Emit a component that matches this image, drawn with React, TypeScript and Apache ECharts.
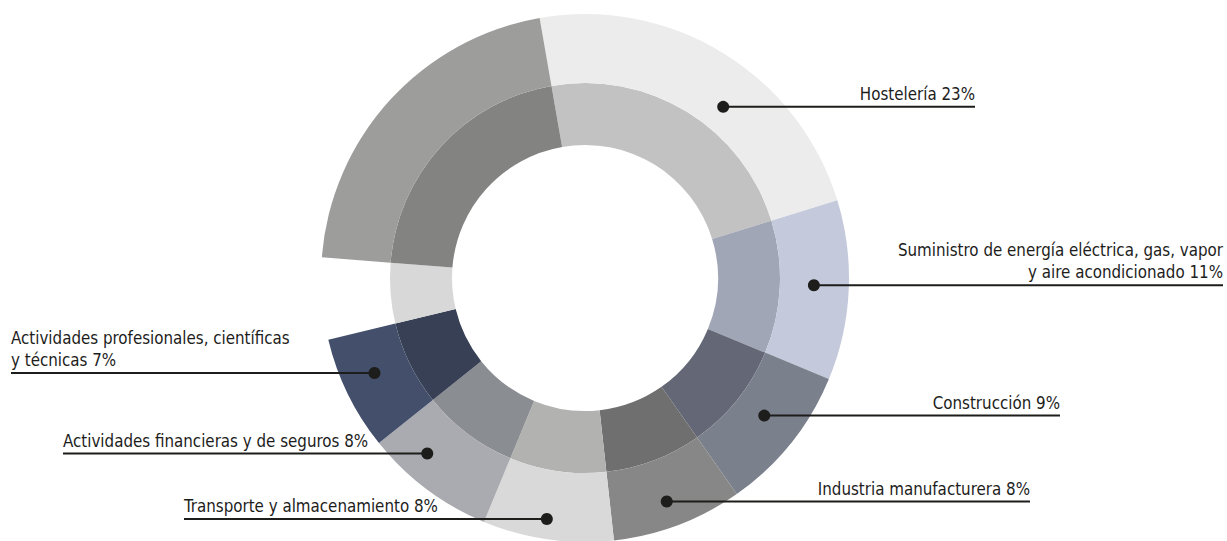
import React, { useEffect, useRef } from "react";
import * as echarts from "echarts";

// ---- data ----
const categories = [
  "Hostelería",
  "Suministro de energía eléctrica, gas, vapor\ny aire acondicionado",
  "Construcción",
  "Industria manufacturera",
  "Transporte y almacenamiento",
  "Actividades financieras y de seguros",
  "Actividades profesionales, científicas\ny técnicas",
  "Otros",
  "Comercio",
];
const shares = [23, 11, 9, 8, 8, 8, 7, 5, 21];
const showLabel = [true, true, true, true, true, true, true, false, false];
const hasOuter = [true, true, true, true, true, true, true, false, true];

// ---- style ----
const outerColors = ["#ececec", "#c4cadb", "#7b808d", "#878787", "#d9d9d9", "#aaabb0", "#434f6b", "#d8d8d8", "#9d9d9c"];
const innerColors = ["#c2c2c2", "#a0a6b5", "#646876", "#6f6f6f", "#b2b3b1", "#8a8d91", "#374055", "#d8d8d8", "#838382"];

// ---- layout ----
const CX = 585;
const CY = 278;
const R_HOLE = 133;
const R_MID = 195;
const R_OUT = 264;
const START = 99.9;
const INK = "#1d1d1b";
const CLEAR = "rgba(0,0,0,0)";
const FONT = '"Liberation Sans Narrow", "DejaVu Sans Condensed", "Roboto Condensed", sans-serif';
// anchor position along the circle (in share units) and radius (px), plus the x where the line ends
const LABEL_LAYOUT = [
  { at: 13.56, r: 220, edge: 975, side: "right" },
  { at: 28.25, r: 229, edge: 1223, side: "right" },
  { at: 38.17, r: 226, edge: 1060, side: "right" },
  { at: 47.17, r: 238, edge: 1030, side: "right" },
  { at: 55.25, r: 244, edge: 184, side: "left" },
  { at: 64.4, r: 236, edge: 63, side: "left" },
  { at: 71.0, r: 231, edge: 11, side: "left" },
];

function anchorPx(i: number) {
  const l = LABEL_LAYOUT[i];
  const a = ((START - l.at * 3.6) * Math.PI) / 180;
  return [CX + l.r * Math.cos(a), CY - l.r * Math.sin(a)];
}

export default function App() {
  const ref = useRef<HTMLDivElement>(null);
  useEffect(() => {
    if (!ref.current) return;
    const chart = echarts.init(ref.current, undefined, { renderer: "svg" });
    const innerData = categories.map((name, i) => ({
      name,
      value: shares[i],
      itemStyle: { color: innerColors[i] },
    }));
    const outerData = categories.map((name, i) => ({
      name,
      value: shares[i],
      itemStyle: { color: hasOuter[i] ? outerColors[i] : CLEAR },
    }));
    const labelData = categories.map((name, i) => ({
      name,
      value: shares[i],
      label: { show: showLabel[i] },
      labelLine: { show: showLabel[i] },
    }));
    const ring = {
      type: "pie",
      center: [CX, CY],
      startAngle: START,
      clockwise: true,
      silent: true,
      label: { show: false },
      labelLine: { show: false },
    };
    chart.setOption({
      animation: false,
      backgroundColor: "#ffffff",
      polar: { center: [CX, CY], radius: R_OUT },
      angleAxis: { type: "value", min: 0, max: 100, startAngle: START, clockwise: true, show: false },
      radiusAxis: { type: "value", min: 0, max: R_OUT, show: false },
      series: [
        { ...ring, radius: [R_HOLE, R_MID], data: innerData, z: 2 },
        { ...ring, radius: [R_MID, R_OUT], data: outerData, z: 2 },
        {
          type: "pie",
          center: [CX, CY],
          radius: [R_MID, R_OUT],
          startAngle: START,
          clockwise: true,
          silent: true,
          avoidLabelOverlap: false,
          itemStyle: { color: CLEAR },
          label: {
            position: "outside",
            formatter: (p: any) => `${p.name} ${p.value}%`,
            color: INK,
            fontFamily: FONT,
            fontSize: 16.8,
            lineHeight: 22,
          },
          labelLine: {
            show: true,
            length: 0,
            length2: 0,
            lineStyle: { color: INK, width: 2, opacity: 1 },
          },
          labelLayout: (p: any) => {
            const l = LABEL_LAYOUT[p.dataIndex];
            if (!l) return {};
            const [x0, y0] = anchorPx(p.dataIndex);
            return {
              x: l.edge,
              y: y0 - 2,
              align: l.side === "right" ? "right" : "left",
              verticalAlign: "bottom",
              labelLinePoints: [
                [x0, y0],
                [x0, y0],
                [l.edge, y0],
              ],
            };
          },
          data: labelData,
          z: 4,
        },
        {
          type: "scatter",
          coordinateSystem: "polar",
          symbol: "circle",
          symbolSize: 12,
          silent: true,
          itemStyle: { color: INK, opacity: 1 },
          data: LABEL_LAYOUT.map((l) => [l.r, l.at]),
          z: 5,
        },
      ],
    });
    return () => chart.dispose();
  }, []);
  return (
    <div
      ref={ref}
      style={{ position: "fixed", left: 0, top: 0, width: 1227, height: 541 }}
    />
  );
}
